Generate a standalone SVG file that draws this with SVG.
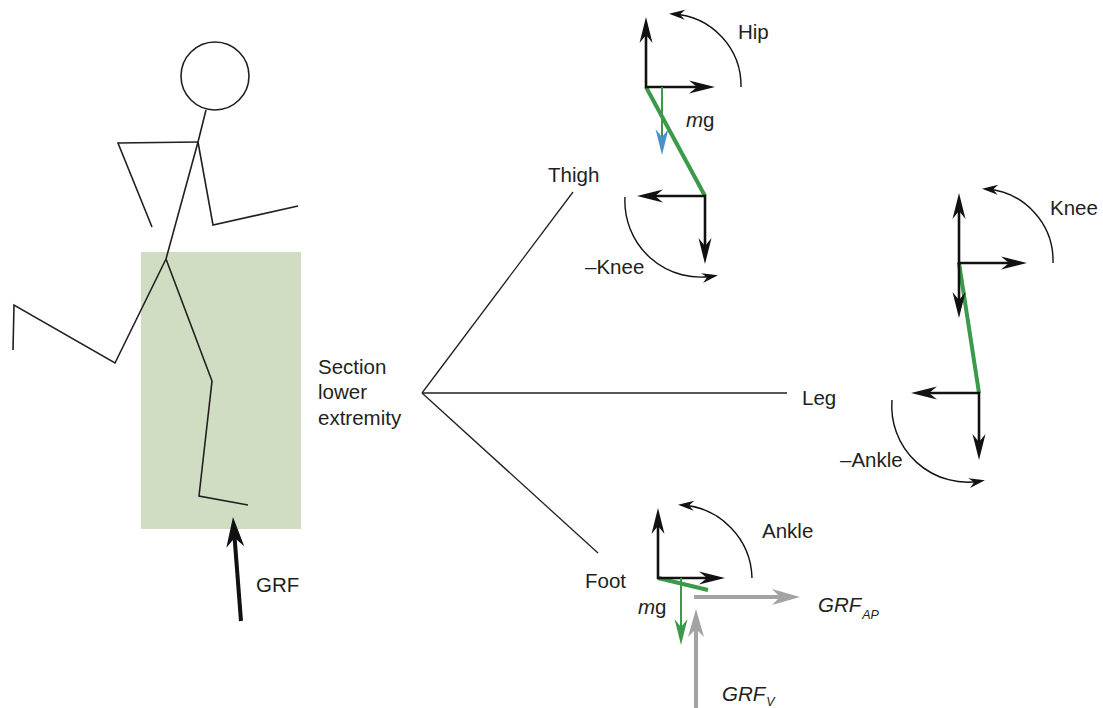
<svg xmlns="http://www.w3.org/2000/svg" width="1103" height="708" viewBox="0 0 1103 708">
  <style>
    text { font-family: "Liberation Sans", Arial, sans-serif; font-size: 20.5px; fill: #231f20; }
    .it { font-style: italic; }
    .sub { font-size: 12.5px; font-style: italic; }
    .fig { fill: none; stroke: #231f20; stroke-width: 1.6; stroke-linejoin: miter; }
    .branch { fill: none; stroke: #231f20; stroke-width: 1.3; }
    .axis { fill: none; stroke: #111; stroke-width: 2.6; marker-end: url(#head); }
    .moment { fill: none; stroke: #111; stroke-width: 1.4; marker-end: url(#headSmall); }
    .seg { stroke: #3b9a4a; stroke-width: 4; stroke-linecap: butt; }
    .grey { fill: none; stroke: #a3a3a3; stroke-width: 4; marker-end: url(#headGrey); }
  </style>
  <defs>
    <marker id="head" markerUnits="userSpaceOnUse" viewBox="-27 -8 28 16" markerWidth="28" markerHeight="16" refX="-8" refY="0" orient="auto">
      <path d="M0,0 L-26,-6.5 L-18,0 L-26,6.5 Z" fill="#111"/>
    </marker>
    <marker id="headSmall" markerUnits="userSpaceOnUse" viewBox="-17 -6 18 12" markerWidth="18" markerHeight="12" refX="-4" refY="0" orient="auto">
      <path d="M0,0 L-16,-5 L-11,0 L-16,5 Z" fill="#111"/>
    </marker>
    <marker id="headBlue" markerUnits="userSpaceOnUse" viewBox="-27 -8 28 16" markerWidth="28" markerHeight="16" refX="-8" refY="0" orient="auto">
      <path d="M0,0 L-26,-6.5 L-18,0 L-26,6.5 Z" fill="#4b91cd"/>
    </marker>
    <marker id="headGreen" markerUnits="userSpaceOnUse" viewBox="-27 -8 28 16" markerWidth="28" markerHeight="16" refX="-8" refY="0" orient="auto">
      <path d="M0,0 L-26,-6.5 L-18,0 L-26,6.5 Z" fill="#3b9a4a"/>
    </marker>
    <marker id="headGrey" markerUnits="userSpaceOnUse" viewBox="-29 -9 30 18" markerWidth="30" markerHeight="18" refX="-8" refY="0" orient="auto">
      <path d="M0,0 L-28,-8 L-20,0 L-28,8 Z" fill="#a3a3a3"/>
    </marker>
    <marker id="headBig" markerUnits="userSpaceOnUse" viewBox="-31 -10 32 20" markerWidth="32" markerHeight="20" refX="-8" refY="0" orient="auto">
      <path d="M0,0 L-30,-9 L-21,0 L-30,9 Z" fill="#111"/>
    </marker>
  </defs>

  <!-- highlighted lower-extremity section -->
  <g id="section-box">
    <rect x="141" y="252" width="160" height="277" fill="#d0ddc3"/>
  </g>

  <!-- runner stick figure -->
  <g id="runner">
    <circle class="fig" cx="215" cy="76" r="34"/>
    <polyline class="fig" points="206,110 198,142 166,259"/>
    <polyline class="fig" points="198,142 118,143 152,227"/>
    <polyline class="fig" points="198,142 213,225 298,206"/>
    <polyline class="fig" points="166,259 115,363 14,305 13,350"/>
    <polyline class="fig" points="166,259 212,381 199,496 248,505"/>
  </g>

  <!-- ground reaction force on the runner -->
  <g id="grf">
    <line x1="241" y1="621" x2="233.6" y2="525" stroke="#111" stroke-width="4" marker-end="url(#headBig)"/>
    <text x="256" y="592">GRF</text>
  </g>

  <!-- section label -->
  <g id="section-label">
    <text x="318" y="374">Section</text>
    <text x="318" y="399">lower</text>
    <text x="318" y="425">extremity</text>
  </g>

  <!-- branch connectors -->
  <g id="connectors">
    <line class="branch" x1="422" y1="393" x2="573" y2="192"/>
    <line class="branch" x1="422" y1="393" x2="787" y2="393"/>
    <line class="branch" x1="422" y1="393" x2="598" y2="553"/>
  </g>

  <!-- thigh free-body diagram -->
  <g id="thigh">
    <text x="548" y="182">Thigh</text>
    <line class="seg" x1="646" y1="87" x2="705" y2="196"/>
    <line class="axis" x1="646" y1="88" x2="646" y2="25"/>
    <line class="axis" x1="645" y1="87" x2="707" y2="87"/>
    <line x1="662" y1="87" x2="662" y2="147" stroke="#3b9a4a" stroke-width="2" marker-end="url(#headBlue)"/>
    <text x="686" y="127"><tspan class="it">m</tspan>g</text>
    <line class="axis" x1="706" y1="196" x2="645" y2="196"/>
    <line class="axis" x1="705" y1="195" x2="705" y2="256"/>
    <path class="moment" d="M741,87 A72,72 0 0 0 673,14"/>
    <text x="738" y="39">Hip</text>
    <path class="moment" d="M625,197 A76,76 0 0 0 714,276"/>
    <text x="585" y="274">–Knee</text>
  </g>

  <!-- leg free-body diagram -->
  <g id="leg">
    <text x="802" y="405">Leg</text>
    <line class="seg" x1="959" y1="263" x2="979" y2="393"/>
    <line class="axis" x1="959" y1="264" x2="959" y2="201"/>
    <line class="axis" x1="958" y1="263" x2="1019" y2="263"/>
    <line class="axis" x1="959" y1="262" x2="959" y2="310"/>
    <line class="axis" x1="980" y1="393" x2="919" y2="393"/>
    <line class="axis" x1="979" y1="392" x2="979" y2="452"/>
    <path class="moment" d="M1053,263 A72,72 0 0 0 986,189"/>
    <text x="1050" y="215">Knee</text>
    <path class="moment" d="M892,400 A76,76 0 0 0 981,481"/>
    <text x="840" y="467">–Ankle</text>
  </g>

  <!-- foot free-body diagram -->
  <g id="foot">
    <text x="585" y="588">Foot</text>
    <line class="seg" x1="658" y1="578" x2="708" y2="590"/>
    <line class="axis" x1="658" y1="579" x2="658" y2="516"/>
    <line class="axis" x1="657" y1="578" x2="717" y2="578"/>
    <line x1="681" y1="578" x2="681" y2="637" stroke="#3b9a4a" stroke-width="2" marker-end="url(#headGreen)"/>
    <text x="638" y="614"><tspan class="it">m</tspan>g</text>
    <line class="grey" x1="694" y1="597" x2="792" y2="597"/>
    <line class="grey" x1="696" y1="708" x2="696" y2="617"/>
    <path class="moment" d="M752,578 A75,75 0 0 0 682,505"/>
    <text x="762" y="538">Ankle</text>
    <text x="818" y="612" class="it">GRF<tspan class="sub" dx="1" dy="7">AP</tspan></text>
    <text x="722" y="701" class="it">GRF<tspan class="sub" dx="1" dy="5">V</tspan></text>
  </g>
</svg>
